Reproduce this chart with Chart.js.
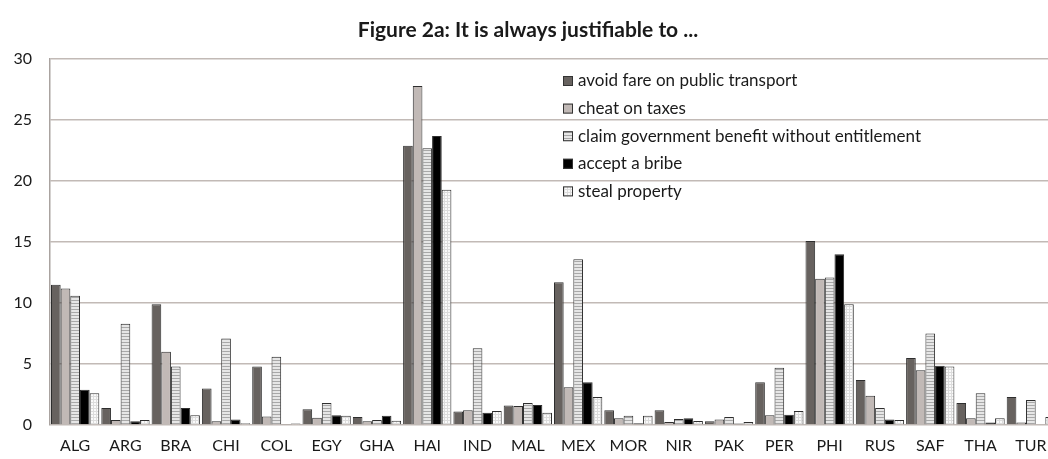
<!DOCTYPE html>
<html>
<head>
<meta charset="utf-8">
<script src="https://cdn.jsdelivr.net/npm/chart.js@4.4.1/dist/chart.umd.min.js"></script>
<style>
    html, body { margin: 0; padding: 0; background: #fff; overflow: hidden; }
    #wrap { width: 1072px; height: 459px; }
</style>
</head>
<body>
<div id="wrap"><canvas id="chart-bar" width="1072" height="459"></canvas></div>
<script>
const categories = ['ALG', 'ARG', 'BRA', 'CHI', 'COL', 'EGY', 'GHA', 'HAI', 'IND', 'MAL',
    'MEX', 'MOR', 'NIR', 'PAK', 'PER', 'PHI', 'RUS', 'SAF', 'THA', 'TUR']

const avoidFare     = [11.5, 1.4, 9.9, 3.0, 4.8, 1.3, 0.65, 22.9, 1.1, 1.6, 11.7, 1.2, 1.2, 0.3, 3.5, 15.1, 3.7, 5.5, 1.8, 2.3]
const cheatTaxes    = [11.2, 0.4, 6.0, 0.3, 0.7, 0.6, 0.3, 27.8, 1.2, 1.55, 3.1, 0.55, 0.25, 0.45, 0.8, 12.0, 2.4, 4.5, 0.55, 0.2]
const claimBenefit  = [10.6, 8.3, 4.8, 7.1, 5.6, 1.8, 0.4, 22.7, 6.3, 1.8, 13.6, 0.75, 0.5, 0.65, 4.7, 12.1, 1.4, 7.5, 2.6, 2.05]
const acceptBribe   = [2.9, 0.3, 1.4, 0.45, 0.05, 0.8, 0.75, 23.7, 1.0, 1.65, 3.5, 0.15, 0.55, 0.12, 0.85, 14.0, 0.45, 4.85, 0.2, 0.0]
const stealProperty = [2.6, 0.4, 0.8, 0.15, 0.12, 0.75, 0.35, 19.3, 1.15, 1.0, 2.3, 0.75, 0.33, 0.25, 1.15, 9.9, 0.4, 4.8, 0.55, 0.65]

const seriesLabels = ['avoid fare on public transport', 'cheat on taxes',
    'claim government benefit without entitlement', 'accept a bribe', 'steal property']

// small fill patterns like the printed figure
function makePattern(bg, fg, kind) {
    let c = document.createElement('canvas')
    c.width = 3
    c.height = 3
    let g = c.getContext('2d')
    g.fillStyle = bg
    g.fillRect(0, 0, 3, 3)
    g.fillStyle = fg
    if (kind === 'stripes') {
        g.fillRect(0, 0, 3, 1)
    } else {
        g.fillRect(0, 0, 3, 1)
        g.fillRect(0, 0, 1, 3)
    }
    return g.createPattern(c, 'repeat')
}

const fills = [
    '#67625f',
    '#c1b9b6',
    makePattern('#e6e6e6', '#a8a8a8', 'stripes'),
    '#000000',
    makePattern('#fafafa', '#dcdcdc', 'grid')
]

const font = "Lato, 'Open Sans', sans-serif"

const insideLegend = {
    id: 'insideLegend',
    afterDraw(chart) {
        let ctx = chart.ctx
        ctx.save()
        ctx.font = '17px ' + font
        ctx.textBaseline = 'middle'
        chart.data.datasets.forEach((ds, i) => {
            let y = 81 + i * 27.6
            ctx.fillStyle = ds.backgroundColor
            ctx.fillRect(563, y - 5, 10, 10)
            ctx.strokeStyle = '#333'
            ctx.lineWidth = 1
            ctx.strokeRect(563.5, y - 4.5, 9, 9)
            ctx.fillStyle = '#1a1a1a'
            ctx.fillText(ds.label, 578, y)
        })
        ctx.restore()
    }
}

let bar = document.getElementById('chart-bar')

let datasets = [avoidFare, cheatTaxes, claimBenefit, acceptBribe, stealProperty].map((d, i) => ({
    label: seriesLabels[i],
    data: d,
    backgroundColor: fills[i],
    borderColor: '#2e2e2e',
    borderWidth: 1,
    borderSkipped: 'bottom',
    categoryPercentage: 0.96,
    barPercentage: 1.0
}))

new Chart(bar, {
    type: 'bar',
    data: {
        labels: categories,
        datasets: datasets
    },
    options: {
        responsive: false,
        animation: false,
        layout: {
            padding: { left: 0, right: 16, top: 0, bottom: 0 }
        },
        scales: {
            x: {
                afterFit: (s) => { s.height = 34 },
                ticks: {
                    color: '#1a1a1a',
                    padding: 11,
                    maxRotation: 0,
                    font: { family: font, size: 16 }
                },
                border: {
                    display: false
                },
                grid: {
                    display: false,
                    drawTicks: false
                }
            },
            y: {
                min: 0,
                max: 30,
                afterFit: (s) => { s.width = 50 },
                ticks: {
                    stepSize: 5,
                    color: '#1a1a1a',
                    padding: 18,
                    font: { family: font, size: 16 }
                },
                border: {
                    display: true,
                    color: '#aaa3a0',
                    width: 1.5
                },
                grid: {
                    display: true,
                    drawTicks: false,
                    color: '#c2bab6',
                    lineWidth: 1.5
                }
            }
        },
        plugins: {
            title: {
                display: true,
                text: 'Figure 2a: It is always justifiable to ...',
                color: '#1a1a1a',
                font: { family: font, size: 21, weight: 'bold', lineHeight: 1.2 },
                padding: { top: 18, bottom: 16 }
            },
            legend: {
                display: false
            },
            tooltip: {
                enabled: false
            }
        }
    },
    plugins: [insideLegend]
})
</script>
</body>
</html>
